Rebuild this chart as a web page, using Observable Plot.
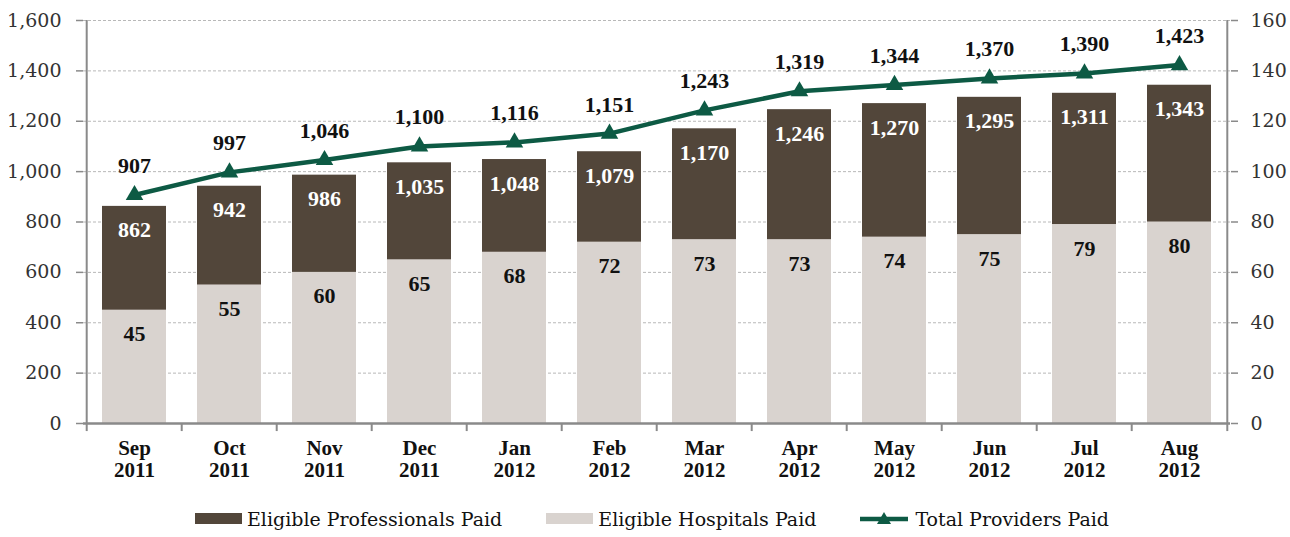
<!DOCTYPE html>
<html><head><meta charset="utf-8">
<script src="https://cdn.jsdelivr.net/npm/d3@7"></script>
<script src="https://cdn.jsdelivr.net/npm/@observablehq/plot@0.6"></script>
<style>
body{margin:0;background:#fff;font-family:"DejaVu Serif",serif;}
#legend{display:flex;justify-content:center;align-items:center;gap:44px;height:37px;font-size:19px;color:#111;padding-left:14px;}
.item{display:flex;align-items:center;gap:5px;}
.sw{width:47px;height:11px;display:inline-block;}
</style></head><body><div id="chart"></div><div id="legend"></div>
<script>
const months = ["Sep 2011","Oct 2011","Nov 2011","Dec 2011","Jan 2012","Feb 2012","Mar 2012","Apr 2012","May 2012","Jun 2012","Jul 2012","Aug 2012"];
const professionals = [862,942,986,1035,1048,1079,1170,1246,1270,1295,1311,1343];
const hospitals = [45,55,60,65,68,72,73,73,74,75,79,80];
const totals = [907,997,1046,1100,1116,1151,1243,1319,1344,1370,1390,1423];
const leftTicks = [0,200,400,600,800,1000,1200,1400,1600];
const rightTicks = [0,20,40,60,80,100,120,140,160];
const seriesNames = ["Eligible Professionals Paid","Eligible Hospitals Paid","Total Providers Paid"];

const C_DARK = "#52463a", C_LIGHT = "#d9d3cf", C_GREEN = "#0d5a44", C_AXIS = "#8a8a8a";
const W = 1290, H = 500, mL = 83, mR = 60, mT = 20, mB = 77;
const ratio = 1600 / 160;
const step = (W - mL - mR) / months.length;
const fmt = d3.format(",");
const FONT = '"Liberation Serif", serif';
const FONT_REG = '"DejaVu Serif", serif';

const rows = months.map((m, i) => ({month: m, prof: professionals[i], hosp: hospitals[i], total: totals[i]}));

const chart = Plot.plot({
  width: W, height: H, marginLeft: mL, marginRight: mR, marginTop: mT, marginBottom: mB,
  style: {fontFamily: FONT, fontSize: "21px", color: "#222", background: "#fff"},
  x: {domain: months, paddingInner: 0.33, paddingOuter: 0.165, label: null},
  y: {domain: [0, 1600], label: null},
  marks: [
    Plot.gridY(leftTicks.slice(1), {stroke: "#9a9a9a", strokeOpacity: 0.7, strokeDasharray: "3,2", strokeWidth: 1}),
    Plot.barY(rows, {x: "month", y: "prof", fill: C_DARK}),
    Plot.barY(rows, {x: "month", y: d => d.hosp * ratio, fill: C_LIGHT}),
    Plot.ruleY([0], {stroke: C_AXIS, strokeWidth: 2.5}),
    Plot.ruleX([months[0]], {dx: -step / 2, stroke: C_AXIS, strokeWidth: 2}),
    Plot.ruleX([months[months.length - 1]], {dx: step / 2, stroke: C_AXIS, strokeWidth: 2}),
    Plot.ruleX(months, {dx: -step / 2, y1: 0, y2: -32, stroke: C_AXIS, strokeWidth: 2}),
    Plot.ruleX([months[months.length - 1]], {dx: step / 2, y1: 0, y2: -32, stroke: C_AXIS, strokeWidth: 2}),
    Plot.axisY(leftTicks, {anchor: "left", tickSize: 7, tickPadding: 15, stroke: C_AXIS, strokeWidth: 1.5, tickFormat: fmt, fill: "#333", fontFamily: FONT_REG, fontSize: 19, label: null}),
    Plot.axisY(rightTicks.map(v => v * ratio), {anchor: "right", tickSize: 7, tickPadding: 13, stroke: C_AXIS, strokeWidth: 1.5, tickFormat: d => fmt(d / ratio), fill: "#333", fontFamily: FONT_REG, fontSize: 19, label: null}),
    Plot.axisX({tickSize: 0, tickPadding: 16, fontWeight: "bold", fill: "#111", fontFamily: FONT, tickFormat: d => d.replace(" ", "\n"), lineHeight: 1.05, label: null}),
    Plot.line(rows, {x: "month", y: "total", stroke: C_GREEN, strokeWidth: 4.5}),
    Plot.dot(rows, {x: "month", y: "total", symbol: "triangle", fill: C_GREEN, r: 6.5}),
    Plot.text(rows, {x: "month", y: "total", text: d => fmt(d.total), dy: -29, fontSize: 22, fontWeight: "bold", fill: "#111", fontFamily: FONT}),
    Plot.text(rows, {x: "month", y: "prof", text: d => fmt(d.prof), dy: 24, fontSize: 22, fontWeight: "bold", fill: "#fff", fontFamily: FONT}),
    Plot.text(rows, {x: "month", y: d => d.hosp * ratio, text: d => fmt(d.hosp), dy: 24, fontSize: 22, fontWeight: "bold", fill: "#111", fontFamily: FONT})
  ]
});
document.getElementById("chart").appendChild(chart);

const legend = document.getElementById("legend");
const items = [
  `<span class="sw" style="background:${C_DARK}"></span>`,
  `<span class="sw" style="background:${C_LIGHT}"></span>`,
  `<svg width="50" height="16"><line x1="0" y1="8" x2="48" y2="8" stroke="${C_GREEN}" stroke-width="4.5"/><path d="M24,1 L31,13 L17,13 Z" fill="${C_GREEN}"/></svg>`
];
seriesNames.forEach((name, i) => {
  const div = document.createElement("div");
  div.className = "item";
  div.innerHTML = items[i] + `<span>${name}</span>`;
  legend.appendChild(div);
});
</script>
</body></html>
